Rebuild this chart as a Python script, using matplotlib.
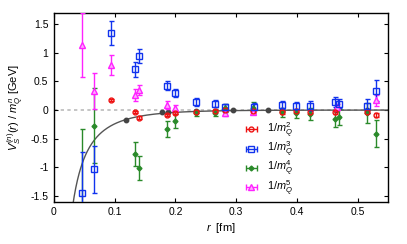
import numpy as np
import matplotlib
matplotlib.use("Agg")
import matplotlib.pyplot as plt

plt.rcParams['font.family'] = ['Liberation Sans', 'DejaVu Sans']
plt.rcParams['mathtext.fontset'] = 'custom'
plt.rcParams['mathtext.rm'] = 'Liberation Sans'
plt.rcParams['mathtext.it'] = 'Liberation Sans:italic'

# 1/m_Q^2 (red)
r2 = [0.0934, 0.133, 0.1406, 0.1868, 0.1988, 0.2334, 0.265, 0.2817, 0.327, 0.375, 0.398, 0.4217, 0.463, 0.515, 0.530]
v2 = [0.17, -0.03, -0.13, -0.09, -0.05, -0.04, -0.02, 0.0, -0.02, -0.04, -0.02, -0.03, -0.04, -0.03, -0.09]
e2 = [0.02, 0.02, 0.02, 0.02, 0.02, 0.02, 0.02, 0.02, 0.02, 0.03, 0.02, 0.03, 0.03, 0.03, 0.03]

# 1/m_Q^3 (blue)
r3 = [0.0467, 0.066, 0.0934, 0.133, 0.1406, 0.1868, 0.1988, 0.2334, 0.265, 0.2817, 0.329, 0.375, 0.398, 0.4217, 0.463, 0.4685, 0.515, 0.530]
v3 = [-1.44, -1.03, 1.34, 0.71, 0.95, 0.425, 0.29, 0.14, 0.11, 0.05, 0.06, 0.08, 0.07, 0.07, 0.14, 0.11, 0.07, 0.34]
e3 = [0.71, 0.41, 0.21, 0.13, 0.12, 0.08, 0.07, 0.07, 0.06, 0.06, 0.06, 0.07, 0.07, 0.09, 0.09, 0.08, 0.13, 0.18]

# 1/m_Q^4 (green)
r4 = [0.0467, 0.066, 0.133, 0.1406, 0.1868, 0.1988, 0.2334, 0.265, 0.2817, 0.327, 0.375, 0.398, 0.4217, 0.463, 0.4685, 0.515, 0.530]
v4 = [-1.75, -0.27, -0.77, -1.01, -0.33, -0.19, -0.05, -0.05, 0.03, 0.04, -0.04, -0.06, -0.07, -0.15, -0.12, -0.05, -0.41]
e4 = [1.42, 0.66, 0.21, 0.21, 0.14, 0.12, 0.05, 0.06, 0.07, 0.10, 0.08, 0.07, 0.10, 0.14, 0.14, 0.18, 0.23]

# 1/m_Q^5 (magenta)
r5 = [0.0467, 0.066, 0.0934, 0.133, 0.1406, 0.1868, 0.1988, 0.2817, 0.327, 0.4657, 0.530]
v5 = [1.13, 0.33, 0.79, 0.26, 0.355, 0.08, 0.04, -0.06, -0.03, 0.05, 0.17]
e5 = [0.56, 0.32, 0.17, 0.10, 0.09, 0.07, 0.05, 0.04, 0.04, 0.05, 0.10]

# gray points on the curve
rg = [0.118, 0.1785, 0.187, 0.2334, 0.2817, 0.2954, 0.327, 0.353, 0.375, 0.465, 0.515]
vg = [-0.17, -0.04, -0.03, -0.01, -0.01, -0.005, -0.005, -0.003, -0.002, -0.001, -0.001]

labels = [r'$1/m_Q^2$', r'$1/m_Q^3$', r'$1/m_Q^4$', r'$1/m_Q^5$']

# curve parameters (fit shape)
A_fit = 0.0722
B_fit = 11.0

fig = plt.figure(figsize=(4.07, 2.44), dpi=100)
ax = fig.add_axes([54/407, 1 - 201.7/244, (388-54)/407, (201.7-12.7)/244])

ax.axhline(0, color='#bbbbbb', lw=1.2, ls=(0, (2, 2)), zorder=1)
rc = np.linspace(0.02, 0.55, 400)
ax.plot(rc, -A_fit*np.exp(-B_fit*rc)/rc, color='#555555', lw=1.0, zorder=2)
ax.plot(rg, vg, 'o', color='#444444', ms=3.2, zorder=3, ls='none')

kw = dict(ls='none', elinewidth=1.0, capsize=1.8, capthick=1.0, zorder=4)
st2 = dict(fmt='o', color='#ee1111', ms=3.5, mfc='none', mew=1.0)
st3 = dict(fmt='s', color='#1133ee', ms=4, mfc='none', mew=1.0)
st4 = dict(fmt='D', color='#2a8a2a', ms=2.5, mfc='#2a8a2a')
st5 = dict(fmt='^', color='#ff22ff', ms=4, mfc='#ffaaff', mew=1.0)

ax.errorbar(r4, v4, yerr=e4, **st4, **kw)
ax.errorbar(r5, v5, yerr=e5, **st5, **kw)
ax.errorbar(r2, v2, yerr=e2, **st2, **kw)
ax.errorbar(r3, v3, yerr=e3, **st3, **kw)

# legend proxies with horizontal bars (gnuplot-like key)
handles = []
for st in (st2, st3, st4, st5):
    hnd = ax.errorbar([np.nan], [np.nan], xerr=[1.0], elinewidth=1.0, capsize=2.0,
                      capthick=1.0, ls='none', **st)
    handles.append(hnd)

leg = ax.legend(handles, labels, loc='lower left',
                bbox_to_anchor=(0.54, -0.02), frameon=False, fontsize=7.8,
                handlelength=1.7, handletextpad=0.6, labelspacing=0.0, borderpad=0.2,
                handleheight=0.5)
leg.set_zorder(10)

ax.set_xlim(0, 0.55)
ax.set_ylim(-1.6, 1.7)
ax.set_xticks([0, 0.1, 0.2, 0.3, 0.4, 0.5])
ax.set_xticklabels(['0', '0.1', '0.2', '0.3', '0.4', '0.5'])
ax.set_yticks([-1.5, -1, -0.5, 0, 0.5, 1, 1.5])
ax.set_yticklabels(['-1.5', '-1', '-0.5', '0', '0.5', '1', '1.5'])
ax.tick_params(direction='in', top=True, right=True, labelsize=7.5, length=3, width=0.8, pad=4)
for s in ax.spines.values():
    s.set_linewidth(1.0)
ax.set_xlabel(r'$r$  [fm]', fontsize=8, labelpad=3)
ax.set_ylabel(r'$V_S^{(n)}(r)\ /\ m_Q^n$ [GeV]', fontsize=8, labelpad=3)

fig.savefig('out.png', dpi=100)
